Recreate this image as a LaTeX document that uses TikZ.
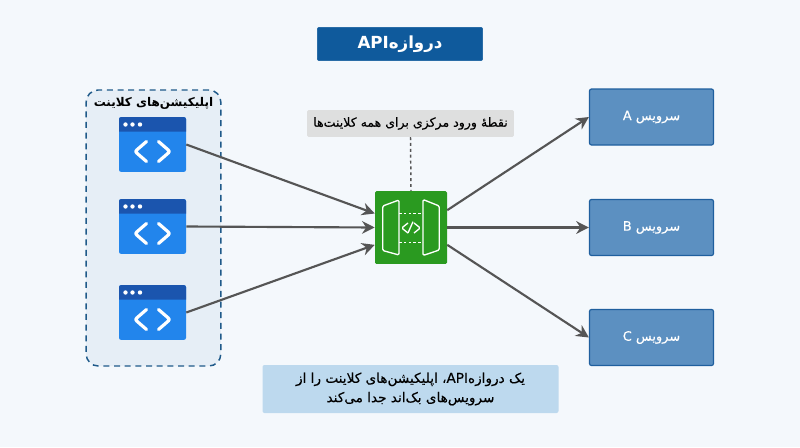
\documentclass[tikz,border=0pt]{standalone}
\usepackage{fontspec}
\setmainfont{DejaVu Sans}
\newfontfamily\arabicfont[Script=Arabic]{DejaVu Sans}
\newfontfamily\arabicmed[Script=Arabic,FakeBold=0.35]{DejaVu Sans}
\TeXXeTstate=1
\usetikzlibrary{arrows.meta,calc}
\definecolor{pagebg}{HTML}{F4F8FC}
\definecolor{titleblue}{HTML}{0F5A9C}
\definecolor{svcfill}{HTML}{5C90C1}
\definecolor{svcline}{HTML}{1F5F9E}
\definecolor{notegray}{HTML}{DEDFDF}
\definecolor{capblue}{HTML}{BDD9EE}
\definecolor{appblue}{HTML}{2285EC}
\definecolor{apphead}{HTML}{1B55AE}
\definecolor{gwgreen}{HTML}{2A9A20}
\definecolor{clientline}{HTML}{1F5A8A}
\definecolor{clientfill}{HTML}{E6EEF6}
\definecolor{linkgray}{HTML}{555555}
\tikzset{
  x=0.75pt,y=-0.75pt,
  txt/.style={font=\arabicfont,inner sep=0pt,align=center},
  titlebox/.style={txt,fill=titleblue,draw=titleblue,rounded corners=1.5pt,minimum width=124pt,minimum height=25pt,text=white},
  svcbox/.style={txt,fill=svcfill,draw=svcline,line width=0.9pt,rounded corners=1.5pt,minimum width=93pt,minimum height=42pt,text=white},
  notebox/.style={txt,fill=notegray,rounded corners=1pt,minimum width=155pt,minimum height=20pt,text=black},
  capbox/.style={txt,fill=capblue,rounded corners=1.5pt,minimum width=222pt,minimum height=36pt,text=black},
  clientbox/.style={fill=clientfill,draw=clientline,line width=1.1pt,dash pattern=on 4.5pt off 3.5pt,rounded corners=9pt,minimum width=101pt,minimum height=207pt,inner sep=0pt},
  grouplabel/.style={txt,text=black},
  link/.style={draw=linkgray,line width=1.6pt,-{Stealth[length=9.5pt,width=9.5pt]}},
  guide/.style={draw=linkgray,line width=1.1pt,dash pattern=on 2.2pt off 2.2pt},
  appicon/.style={fill=appblue,rounded corners=1.5pt,minimum width=50.25pt,minimum height=41pt,inner sep=0pt,
    path picture={
      \begin{scope}[shift={(path picture bounding box.center)}]
        \fill[apphead] (-40,-27.5) rectangle (40,-13);
        \fill[white] (-27,-20) circle (2.2) (-20,-20) circle (2.2) (-12.5,-20) circle (2.2);
        \draw[white,line width=2.4pt,line cap=round,line join=round] (-6,-3) -- (-17.5,7) -- (-6,17);
        \draw[white,line width=2.4pt,line cap=round,line join=round] (6,-3) -- (17.5,7) -- (6,17);
      \end{scope}
    }},
  gwbox/.style={fill=gwgreen,rounded corners=1pt,minimum width=54pt,minimum height=54.5pt,inner sep=0pt,
    path picture={
      \begin{scope}[shift={(path picture bounding box.center)}]
        \draw[white,line width=1pt,line join=round] (-28.3,-21.5) -- (-12,-27.5) -- (-12,27.5) -- (-28.3,23) -- cycle;
        \draw[white,line width=1pt,line join=round] (12,-28) -- (28.3,-21.5) -- (28.3,22.5) -- (12,28) -- cycle;
        \draw[white,line width=1pt,dash pattern=on 2pt off 1.6pt] (-12,-14.2) -- (12,-14.2) (-12,15.2) -- (12,15.2);
        \draw[white,line width=1pt] (-3,-4.5) -- (-9.3,0.5) -- (-3,5.5);
        \draw[white,line width=1pt] (3,-4.5) -- (9.3,0.5) -- (3,5.5);
        \draw[white,line width=1pt] (2,-5.8) -- (-3,5.5);
      \end{scope}
    }},
}
\begin{document}
\begin{tikzpicture}
\useasboundingbox (0,0) rectangle (800,447);
\fill[pagebg] (0,0) rectangle (800,447);

\node[titlebox,font=\arabicfont\bfseries\fontsize{12.5}{15}\selectfont] (title) at (400,44) {\beginR دروازه\beginL API\endL\endR};

\node[clientbox] (client) at (153.5,228) {};
\node[grouplabel,font=\arabicfont\bfseries\fontsize{9}{11}\selectfont] (clientlabel) at (153.5,103.5) {\beginR اپلیکیشن‌های کلاینت\endR};
\node[appicon] (app1) at (152.5,144.5) {};
\node[appicon] (app2) at (152.5,226.5) {};
\node[appicon] (app3) at (152.5,312.5) {};

\node[gwbox] (gw) at (411,227.5) {};

\node[notebox,font=\arabicmed\fontsize{9.4}{11}\selectfont] (note) at (410.5,123.5) {\beginR نقطهٔ ورود مرکزی برای همه کلاینت‌ها\endR};

\node[svcbox,font=\arabicmed\fontsize{9.7}{11}\selectfont] (svca) at (651.5,117) {\beginR سرویس \beginL A\endL\endR};
\node[svcbox,font=\arabicmed\fontsize{9.7}{11}\selectfont] (svcb) at (651.5,227.5) {\beginR سرویس \beginL B\endL\endR};
\node[svcbox,font=\arabicmed\fontsize{9.7}{11}\selectfont] (svcc) at (651.5,337.5) {\beginR سرویس \beginL C\endL\endR};

\node[capbox,font=\arabicmed\fontsize{10.2}{14.5}\selectfont] (cap) at (410.5,389) {\beginR یک دروازه\beginL API\endL، اپلیکیشن‌های کلاینت را از\endR\\\beginR سرویس‌های بک‌اند جدا می‌کند\endR};

\draw[guide] (note.south) -- (gw.north);

\draw[link] (app1.east) -- ([yshift=10.5pt]gw.west);
\draw[link] (app2.east) -- (gw.west);
\draw[link] (app3.east) -- ([yshift=-13pt]gw.west);

\draw[link] ([yshift=13pt]gw.east) -- (svca.west);
\draw[link] (gw.east) -- (svcb.west);
\draw[link] ([yshift=-13pt]gw.east) -- (svcc.west);
\end{tikzpicture}
\end{document}
